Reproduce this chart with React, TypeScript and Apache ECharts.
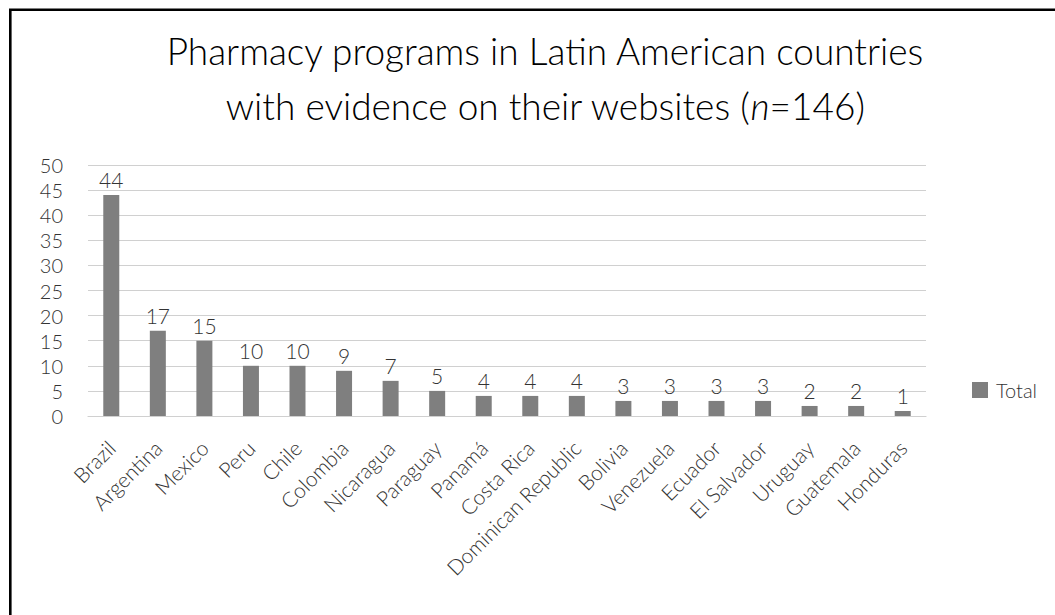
import React, { useEffect, useRef } from "react";
import * as echarts from "echarts";

const categories = [
  "Brazil", "Argentina", "Mexico", "Peru", "Chile", "Colombia", "Nicaragua",
  "Paraguay", "Panamá", "Costa Rica", "Dominican Republic", "Bolivia",
  "Venezuela", "Ecuador", "El Salvador", "Uruguay", "Guatemala", "Honduras",
];
const totals = [44, 17, 15, 10, 10, 9, 7, 5, 4, 4, 4, 3, 3, 3, 3, 2, 2, 1];
const seriesName = "Total";
const titleLine1 = "Pharmacy programs in Latin American countries";
const titleLine2 = "with evidence on their websites ({i|n}=146)";

const FONT = "'Lato Light', 'Lato', 'DejaVu Sans', sans-serif";
const TEXT = "#333333";

export default function App() {
  const ref = useRef<HTMLDivElement>(null);
  useEffect(() => {
    if (!ref.current) return;
    const chart = echarts.init(ref.current, undefined, { renderer: "svg" });
    chart.setOption({
      animation: false,
      backgroundColor: "#ffffff",
      title: {
        text: titleLine1 + "\n" + titleLine2,
        left: 540,
        top: 18,
        textAlign: "center",
        textStyle: {
          fontFamily: FONT,
          fontWeight: 300,
          fontSize: 37,
          lineHeight: 55,
          color: "#000000",
          rich: {
            i: { fontFamily: FONT, fontWeight: 300, fontSize: 37, lineHeight: 55, fontStyle: "italic", color: "#000000" },
          },
        },
      },
      graphic: [
        {
          type: "rect",
          silent: true,
          z: 100,
          shape: { x: 10.3, y: 9.7, width: 3000, height: 3000 },
          style: { fill: "none", stroke: "#000000", lineWidth: 2.6 },
        },
      ],
      legend: {
        data: [seriesName],
        left: 972,
        top: 380,
        orient: "vertical",
        icon: "rect",
        itemWidth: 16,
        itemHeight: 16,
        itemGap: 10,
        padding: 0,
        textStyle: { fontFamily: FONT, fontWeight: 300, fontSize: 20, color: TEXT, padding: [0, 0, 0, 3] },
      },
      grid: { left: 88, right: 129, top: 165, bottom: 199, containLabel: false },
      xAxis: {
        type: "category",
        data: categories,
        axisLine: { show: true, lineStyle: { color: "#d0d0d0", width: 1.2 } },
        axisTick: { show: false },
        axisLabel: {
          interval: 0,
          rotate: 45,
          margin: 28,
          fontFamily: FONT,
          fontWeight: 300,
          fontSize: 21,
          color: TEXT,
        },
      },
      yAxis: {
        type: "value",
        min: 0,
        max: 50,
        interval: 5,
        axisLine: { show: false },
        axisTick: { show: false },
        splitLine: { lineStyle: { color: "#d0d0d0", width: 1.2 } },
        axisLabel: { margin: 25, fontFamily: FONT, fontWeight: 300, fontSize: 20, color: TEXT },
      },
      series: [
        {
          name: seriesName,
          type: "bar",
          data: totals,
          barWidth: 16,
          itemStyle: { color: "#7f7f7f" },
          label: {
            show: true,
            position: "top",
            distance: 5,
            fontFamily: FONT,
            fontWeight: 300,
            fontSize: 21,
            color: TEXT,
          },
        },
      ],
    });
    return () => chart.dispose();
  }, []);
  return (
    <div
      ref={ref}
      style={{ position: "fixed", left: 0, top: 0, width: 1055, height: 615 }}
    />
  );
}
